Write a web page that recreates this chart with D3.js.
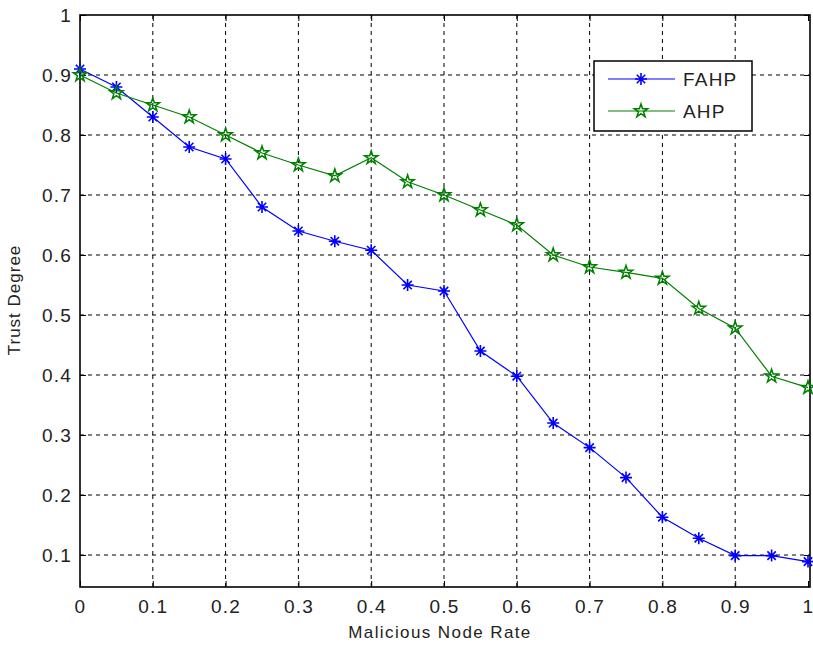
<!DOCTYPE html>
<html>
<head>
<meta charset="utf-8">
<script src="https://cdn.jsdelivr.net/npm/d3@7"></script>
<style>
  body { margin: 0; background: #fff; }
  text { font-family: "Liberation Sans", Arial, sans-serif; fill: #222; }
</style>
</head>
<body>
<div id="chart"></div>
<script>
// data
const rates = [0, 0.05, 0.1, 0.15, 0.2, 0.25, 0.3, 0.35, 0.4, 0.45, 0.5,
               0.55, 0.6, 0.65, 0.7, 0.75, 0.8, 0.85, 0.9, 0.95, 1];
const fahp = [0.91, 0.88, 0.83, 0.78, 0.76, 0.68, 0.64, 0.623, 0.608, 0.55, 0.54,
              0.44, 0.398, 0.32, 0.279, 0.229, 0.163, 0.128, 0.099, 0.099, 0.089];
const ahp = [0.90, 0.87, 0.85, 0.83, 0.80, 0.77, 0.75, 0.732, 0.762, 0.722, 0.70,
             0.675, 0.65, 0.60, 0.58, 0.571, 0.561, 0.511, 0.478, 0.398, 0.379];
const xTicks = [0, 0.1, 0.2, 0.3, 0.4, 0.5, 0.6, 0.7, 0.8, 0.9, 1];
const yTicks = [0.1, 0.2, 0.3, 0.4, 0.5, 0.6, 0.7, 0.8, 0.9, 1];
const seriesNames = ["FAHP", "AHP"];

const W = 813, H = 645;
const margin = {top: 15, right: 5, bottom: 58, left: 80};
const width = 808 - margin.left;
const height = H - margin.top - margin.bottom;

const svg = d3.select("#chart").append("svg")
    .attr("width", W).attr("height", H);
const g = svg.append("g")
    .attr("transform", "translate(" + margin.left + "," + margin.top + ")");

const x = d3.scaleLinear().domain([0, 1]).range([0, width]);
const y = d3.scaleLinear().domain([0.0467, 1]).range([height, 0]);

// grid
g.append("g").selectAll("line").data(xTicks.slice(1, -1)).join("line")
    .attr("x1", d => x(d)).attr("x2", d => x(d))
    .attr("y1", 0).attr("y2", height)
    .attr("stroke", "#000").attr("stroke-dasharray", "4,4");
g.append("g").selectAll("line").data(yTicks.slice(0, -1)).join("line")
    .attr("x1", 0).attr("x2", width + 2)
    .attr("y1", d => y(d)).attr("y2", d => y(d))
    .attr("stroke", "#000").attr("stroke-dasharray", "4,4");

// axes
const fmt = d => String(d);
const xAxis = g.append("g").attr("transform", "translate(0," + height + ")")
    .call(d3.axisBottom(x).tickValues(xTicks).tickSize(-6).tickPadding(13).tickFormat(fmt));
const xAxisTop = g.append("g")
    .call(d3.axisTop(x).tickValues(xTicks).tickSize(-6).tickFormat(""));
const yAxis = g.append("g")
    .call(d3.axisLeft(y).tickValues(yTicks).tickSize(-6).tickPadding(8).tickFormat(fmt));
const yAxisR = g.append("g").attr("transform", "translate(" + (width + 2) + ",0)")
    .call(d3.axisRight(y).tickValues(yTicks).tickSize(-6).tickFormat(""));

[xAxis, xAxisTop, yAxis, yAxisR].forEach(a => {
    a.select(".domain").remove();
    a.selectAll("line").attr("stroke", "#000");
    a.selectAll("text").style("font-size", "19px").style("fill", "#222")
        .style("letter-spacing", "1.2px").attr("font-family", null);
});

// frame
g.append("rect").attr("x", 0).attr("y", 0).attr("width", width + 2).attr("height", height)
    .attr("fill", "none").attr("stroke", "#000").attr("stroke-width", 1.6);

// markers
function asterisk(sel, r) {
    sel.append("path")
        .attr("d", "M0," + (-r) + "V" + r + "M" + (-r) + ",0H" + r +
            "M" + (-r * 0.7) + "," + (-r * 0.7) + "L" + (r * 0.7) + "," + (r * 0.7) +
            "M" + (-r * 0.7) + "," + (r * 0.7) + "L" + (r * 0.7) + "," + (-r * 0.7));
}
const star = d3.symbol().type(d3.symbolStar).size(55);

const line = d3.line().x((d, i) => x(rates[i])).y(d => y(d));

// FAHP
g.append("path").datum(fahp).attr("d", line)
    .attr("fill", "none").attr("stroke", "#0000ff").attr("stroke-width", 1.2);
g.append("g").selectAll("g").data(fahp).join("g")
    .attr("transform", (d, i) => "translate(" + x(rates[i]) + "," + y(d) + ")")
    .attr("stroke", "#0000ff").attr("stroke-width", 1.6)
    .call(asterisk, 6);

// AHP
g.append("path").datum(ahp).attr("d", line)
    .attr("fill", "none").attr("stroke", "#008000").attr("stroke-width", 1.2);
g.append("g").selectAll("path").data(ahp).join("path")
    .attr("transform", (d, i) => "translate(" + x(rates[i]) + "," + y(d) + ")")
    .attr("d", star).attr("fill", "none").attr("stroke", "#008000").attr("stroke-width", 1.5);

// legend
const leg = svg.append("g");
leg.append("rect").attr("x", 594).attr("y", 61).attr("width", 158).attr("height", 70)
    .attr("fill", "#fff").attr("stroke", "#000").attr("stroke-width", 1.5);
const colors = ["#0000ff", "#008000"];
seriesNames.forEach((name, i) => {
    const ly = 79 + i * 32;
    leg.append("line").attr("x1", 608).attr("x2", 675).attr("y1", ly).attr("y2", ly)
        .attr("stroke", colors[i]).attr("stroke-width", 1.2);
    const m = leg.append("g").attr("transform", "translate(641," + ly + ")");
    if (i === 0) {
        m.attr("stroke", colors[i]).attr("stroke-width", 1.6).call(asterisk, 6);
    } else {
        m.append("path").attr("d", star).attr("fill", "none")
            .attr("stroke", colors[i]).attr("stroke-width", 1.5);
    }
    leg.append("text").attr("x", 683).attr("y", ly + 7)
        .style("font-size", "19px").style("letter-spacing", "1.2px").text(name);
});

// axis titles
svg.append("text").attr("x", 440).attr("y", 638).attr("text-anchor", "middle")
    .style("font-size", "17px").style("letter-spacing", "1.4px").text("Malicious Node Rate");
svg.append("text").attr("transform", "translate(20,300) rotate(-90)")
    .attr("text-anchor", "middle")
    .style("font-size", "17px").style("letter-spacing", "1px").text("Trust Degree");
</script>
</body>
</html>
